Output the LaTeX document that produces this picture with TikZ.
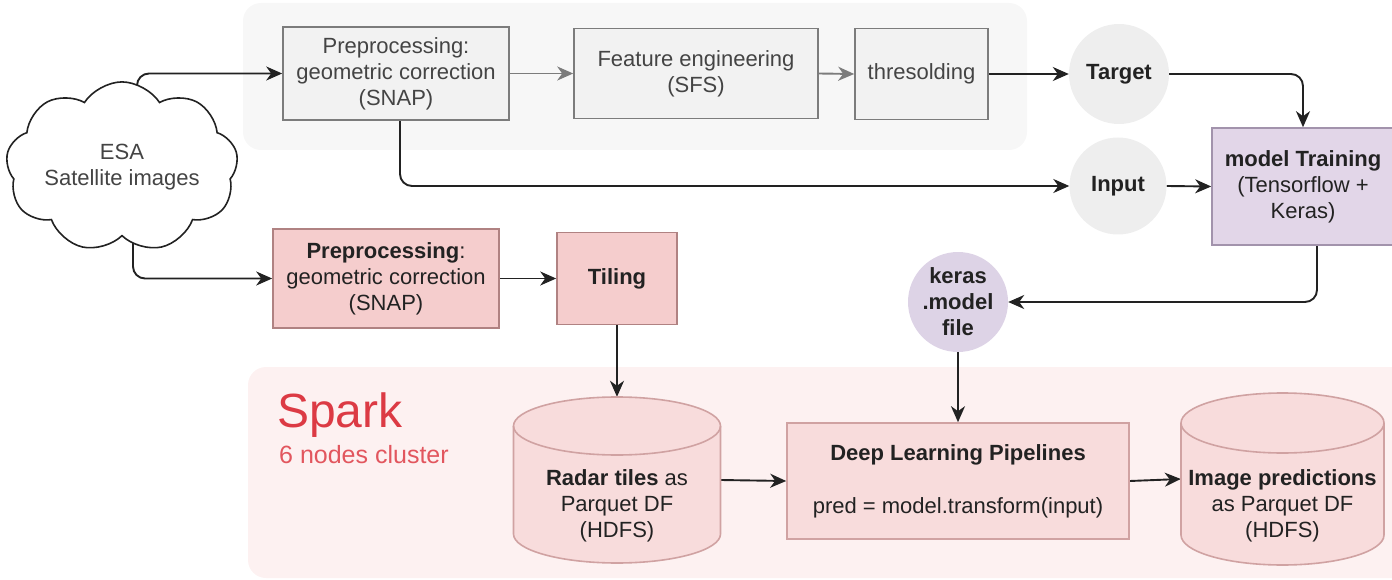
\documentclass[tikz,border=0pt]{standalone}
\usepackage{fontspec}
\setmainfont{Liberation Sans}
\usetikzlibrary{arrows.meta,shapes.symbols,calc}

\definecolor{panelgray}{HTML}{F7F7F7}
\definecolor{sparkbg}{HTML}{FDF1F1}
\definecolor{grayfill}{HTML}{F2F2F2}
\definecolor{grayline}{HTML}{7C7C7C}
\definecolor{graytext}{HTML}{444444}
\definecolor{roundfill}{HTML}{EEEEEE}
\definecolor{redfill}{HTML}{F5CDCD}
\definecolor{redline}{HTML}{B08282}
\definecolor{rosefill}{HTML}{F8DCDC}
\definecolor{roseline}{HTML}{D0A2A2}
\definecolor{lilacfill}{HTML}{E2D6E8}
\definecolor{lilacline}{HTML}{A293AC}
\definecolor{kerasfill}{HTML}{DDD3E6}
\definecolor{sparkred}{HTML}{DC3A44}
\definecolor{sparkpale}{HTML}{E2565E}
\definecolor{ink}{HTML}{222222}

\pgfdeclarelayer{panels}
\pgfdeclarelayer{links}
\pgfsetlayers{panels,links,main}

\begin{document}
\begin{tikzpicture}[x=1pt,y=-1pt,
  txt/.style={font=\fontsize{22}{26}\selectfont, align=center, text=ink},
  bold/.style={font=\fontsize{22}{26}\selectfont\bfseries},
  graybox/.style={txt, text=graytext, draw=grayline, fill=grayfill, line width=1.6pt, inner sep=0pt},
  redbox/.style={txt, draw=redline, fill=redfill, line width=1.6pt, inner sep=0pt},
  rosebox/.style={txt, draw=roseline, fill=rosefill, line width=1.6pt, inner sep=0pt},
  lilacbox/.style={txt, draw=lilacline, fill=lilacfill, line width=1.6pt, inner sep=0pt},
  disc/.style={txt, bold, circle, minimum size=100pt, inner sep=0pt},
  cyl/.style={draw=roseline, fill=rosefill, line width=1.6pt},
  tip/.style={-{Stealth[length=16pt,width=14pt,inset=5pt]}},
  conn/.style={tip, draw=ink, line width=1.9pt, rounded corners=12pt},
  gconn/.style={tip, draw=grayline, line width=1.9pt},
]
\useasboundingbox (0,0) rectangle (1392,580);

% background panels
\begin{pgfonlayer}{panels}
  \fill[panelgray, rounded corners=18pt] (243,3) rectangle (1027,150);
  \fill[sparkbg, rounded corners=18pt] (248,367) rectangle (1410,578);
\end{pgfonlayer}

% source
\node[cloud, cloud puffs=9, cloud puff arc=115, aspect=1.6, draw=ink, fill=white,
      line width=1.6pt, minimum width=218pt, minimum height=136pt, inner sep=0pt,
      txt, text=graytext] (esa) at (122,167) {ESA\\Satellite images};

% training branch
\node[graybox, minimum width=226pt, minimum height=93pt] (pre1) at (396,73.5)
  {Preprocessing:\\geometric correction\\(SNAP)};
\node[graybox, minimum width=244pt, minimum height=90pt] (feat) at (696,73.5)
  {Feature engineering\\(SFS)};
\node[graybox, minimum width=133pt, minimum height=91pt] (thr) at (921.5,74)
  {thresolding};
\node[disc, fill=roundfill] (target) at (1119,74) {Target};
\node[disc, fill=roundfill, minimum size=97pt] (input) at (1118,186) {Input};
\node[lilacbox, minimum width=182pt, minimum height=117pt] (train) at (1303,186.5)
  {\textbf{model Training}\\(Tensorflow +\\Keras)};
\node[disc, fill=kerasfill] (keras) at (958,302) {keras\\.model\\file};

% inference branch
\node[redbox, minimum width=226pt, minimum height=99pt] (pre2) at (386,278.5)
  {\textbf{Preprocessing}:\\geometric correction\\(SNAP)};
\node[redbox, minimum width=120pt, minimum height=92pt] (tiling) at (617,278.5)
  {\textbf{Tiling}};

% storage cylinders
\path[cyl] (513.5,426) -- (513.5,534)
  arc[start angle=180, end angle=0, x radius=103.5, y radius=29]
  -- (720.5,426)
  arc[start angle=0, end angle=-180, x radius=103.5, y radius=29] -- cycle;
\draw[roseline, line width=1.6pt] (513.5,426)
  arc[start angle=180, end angle=0, x radius=103.5, y radius=29];
\node[inner sep=0pt, minimum width=207pt, minimum height=166pt] (radar) at (617,480) {};
\node[txt] (radartxt) at ($(radar.center)+(0,26)$)
  {\textbf{Radar tiles} as\\Parquet DF\\(HDFS)};

\path[cyl] (1181,423) -- (1181,535)
  arc[start angle=180, end angle=0, x radius=101.5, y radius=30]
  -- (1384,423)
  arc[start angle=0, end angle=-180, x radius=101.5, y radius=30] -- cycle;
\draw[roseline, line width=1.6pt] (1181,423)
  arc[start angle=180, end angle=0, x radius=101.5, y radius=30];
\node[inner sep=0pt, minimum width=203pt, minimum height=172pt] (pred) at (1282.5,479) {};
\node[txt] (predtxt) at ($(pred.center)+(0,27)$)
  {\textbf{Image predictions}\\as Parquet DF\\(HDFS)};

\node[rosebox, minimum width=342pt, minimum height=116pt] (dlp) at (958,481)
  {\textbf{Deep Learning Pipelines}\\[27pt]pred = model.transform(input)};

% cluster caption
\node[anchor=base west, inner sep=0pt, text=sparkred,
      font=\fontsize{48}{48}\selectfont] (spark) at (277,427) {Spark};
\node[anchor=base west, inner sep=0pt, text=sparkpale,
      font=\fontsize{25}{25}\selectfont] (cluster) at (279,463) {6 nodes cluster};

% connectors
\begin{pgfonlayer}{links}
  \draw[conn] ([xshift=15pt]esa.center) |- (pre1.west);
  \draw[gconn] (pre1.east) -- (feat.west);
  \draw[gconn] (feat.east) -- (thr.west);
  \draw[conn] (thr.east) -- (target.west);
  \draw[conn] (target.east) -| (train.north);
  \draw[conn] ([xshift=4pt]pre1.south) |- (input.west);
  \draw[conn] (input.east) -- (train.west);
  \draw[conn] ([xshift=14pt]train.south) |- (keras.east);
  \draw[conn] (keras.south) -- (dlp.north);
  \draw[conn] ([xshift=11pt]esa.center) |- (pre2.west);
  \draw[conn] (pre2.east) -- (tiling.west);
  \draw[conn] (tiling.south) -- (radar.north);
  \draw[conn] (radar.east) -- (dlp.west);
  \draw[conn] (dlp.east) -- (pred.west);
\end{pgfonlayer}
\end{tikzpicture}
\end{document}
